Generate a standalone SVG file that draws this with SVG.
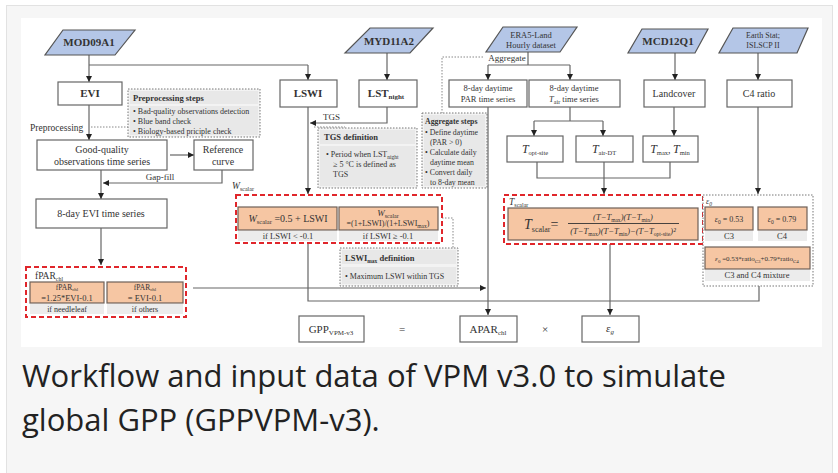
<svg xmlns="http://www.w3.org/2000/svg" width="838" height="473" viewBox="0 0 838 473">
<defs>
<style>
.t{font-family:"Liberation Serif",serif;fill:#333;font-size:9px}
.c{text-anchor:middle}
.b{font-weight:bold}
.i{font-style:italic}
.box{fill:#fff;stroke:#666;stroke-width:1.2}
.para{fill:#b4c6e7;stroke:#555;stroke-width:1.2}
.or{fill:#f6c6a3;stroke:#6e6058;stroke-width:1.2}
.red{fill:#fff;stroke:#e0262b;stroke-width:2;stroke-dasharray:5 3}
.dot{fill:#f3f3f3;stroke:#777;stroke-width:1;stroke-dasharray:1.5 1.5}
.band{fill:#e8e8e8}
.lbl{fill:#ececec}
.ln{stroke:#666;stroke-width:1.2;fill:none}
.dl{stroke:#888;stroke-width:1;fill:none;stroke-dasharray:1.5 1.5}
.ar{marker-end:url(#ah)}
.cap{font-family:"Open Sans","Noto Sans",sans-serif;font-size:31px;fill:#222}
</style>
<marker id="ah" markerWidth="6" markerHeight="6" refX="6" refY="3" orient="auto" markerUnits="userSpaceOnUse">
<path d="M0,0 L6,3 L0,6 z" fill="#222"/>
</marker>
</defs>
<rect x="0" y="0" width="838" height="473" fill="#fff"/>
<rect x="6.5" y="5.5" width="826" height="480" fill="#f6f6f6" stroke="#e2e2e2"/>
<rect x="21" y="18" width="801" height="329" fill="#fff"/>

<g id="connectors">
<path class="ln ar" d="M89,55 V82"/>
<path class="ln" d="M89,65 H308"/>
<path class="ln ar" d="M308,65 V80"/>
<path class="ln ar" d="M89,105 V140"/>
<path class="dl" d="M91,127 H128"/>
<path class="ln ar" d="M170,155 H194"/>
<path class="ln ar" d="M101,170 V199"/>
<path class="ln ar" d="M222,170 V183 H103"/>
<path class="ln ar" d="M101,228 V265"/>
<path class="ln ar" d="M193,288 H486"/>
<path class="ln ar" d="M387,53 V80"/>
<path class="ln ar" d="M387,107 V123 H310"/>
<path class="dl" d="M314,127 H345"/>
<path class="ln ar" d="M308,107 V194"/>
<path class="ln" d="M308,243 V301 H759 V286"/>
<path class="ln" d="M528,52 V65"/>
<path class="ln" d="M488,65 H570"/>
<path class="ln ar" d="M488,65 V80"/>
<path class="ln ar" d="M570,65 V80"/>
<path class="dl" d="M483,57 H442 V113"/>
<path class="ln ar" d="M488,107 V315"/>
<path class="ln" d="M570,107 V121"/>
<path class="ln" d="M534,121 H603"/>
<path class="ln ar" d="M534,121 V136"/>
<path class="ln ar" d="M603,121 V136"/>
<path class="ln ar" d="M675,53 V80"/>
<path class="ln ar" d="M674,107 V136"/>
<path class="ln ar" d="M758,53 V80"/>
<path class="ln ar" d="M758,107 V194"/>
<path class="ln" d="M537,162 V178 H670 V162"/>
<path class="ln ar" d="M604,162 V194"/>
<path class="ln ar" d="M610,244 V315"/>
<path class="dl" d="M442,218 H453 V248"/>
<text class="t c" x="160" y="180">Gap-fill</text>
<text class="t" x="30" y="131" style="font-size:9.5px">Preprocessing</text>
<text class="t" x="323" y="120">TGS</text>
<text class="t c" x="507" y="61">Aggregate</text>
</g>

<g id="MOD09A1"><polygon class="para" points="63,30 135,30 115,55 45,55"/><text class="t c b" x="89" y="46" style="font-size:11px">MOD09A1</text></g>
<g id="MYD11A2"><polygon class="para" points="370,28 433,28 410,53 345,53"/><text class="t c b" x="389" y="45" style="font-size:11px">MYD11A2</text></g>
<g id="ERA5"><polygon class="para" points="503,27 577,27 560,52 486,52"/><text class="t c" x="531" y="38" style="font-size:8.5px">ERA5-Land</text><text class="t c" x="531" y="48" style="font-size:8.5px">Hourly dataset</text></g>
<g id="MCD12Q1"><polygon class="para" points="642,29 708,29 695,53 628,53"/><text class="t c b" x="668" y="45" style="font-size:11px">MCD12Q1</text></g>
<g id="EarthStat"><polygon class="para" points="733,28 808,28 797,53 719,53"/><text class="t c" x="763" y="38" style="font-size:8px">Earth Stat;</text><text class="t c" x="763" y="48" style="font-size:8px">ISLSCP II</text></g>

<g id="EVI"><rect class="box" x="58" y="82" width="64" height="23"/><text class="t c b" x="90" y="97" style="font-size:11px">EVI</text></g>
<g id="preproc"><rect class="dot" x="128" y="89" width="132" height="48"/><rect class="band" x="130" y="91" width="128" height="13"/><rect class="band" x="130" y="106" width="128" height="29"/>
<text class="t b" x="133" y="101" style="font-size:8.5px">Preprocessing steps</text>
<text class="t" x="133" y="114" style="font-size:8px">• Bad-quality observations detection</text>
<text class="t" x="133" y="124" style="font-size:8px">• Blue band check</text>
<text class="t" x="133" y="134" style="font-size:8px">• Biology-based priciple check</text></g>
<g id="goodq"><rect class="box" x="37" y="140" width="130" height="30"/><text class="t c" x="102" y="153" style="font-size:10px">Good-quality</text><text class="t c" x="102" y="165" style="font-size:10px">observations time series</text></g>
<g id="refcurve"><rect class="box" x="194" y="140" width="59" height="30"/><text class="t c" x="223" y="153" style="font-size:10px">Reference</text><text class="t c" x="223" y="165" style="font-size:10px">curve</text></g>
<g id="evi8"><rect class="box" x="36" y="199" width="131" height="29"/><text class="t c" x="101" y="217" style="font-size:10px">8-day EVI time series</text></g>

<g id="LSWI"><rect class="box" x="280" y="80" width="57" height="27"/><text class="t c b" x="308" y="97" style="font-size:11px">LSWI</text></g>
<g id="LST"><rect class="box" x="359" y="80" width="58" height="27"/><text class="t c b" x="386" y="97" style="font-size:11px">LST<tspan dy="2" style="font-size:7px">night</tspan></text></g>
<g id="PAR"><rect class="box" x="449" y="80" width="78" height="27"/><text class="t c" x="488" y="91" style="font-size:8.5px">8-day daytime</text><text class="t c" x="488" y="102" style="font-size:8.5px">PAR time series</text></g>
<g id="Tair"><rect class="box" x="529" y="80" width="91" height="27"/><text class="t c" x="574" y="91" style="font-size:8.5px">8-day daytime</text><text class="t c" x="574" y="102" style="font-size:8.5px"><tspan class="i">T</tspan><tspan dy="2" style="font-size:6px">air</tspan><tspan dy="-2"> time series</tspan></text></g>
<g id="Landcover"><rect class="box" x="644" y="80" width="61" height="27"/><text class="t c" x="674" y="97" style="font-size:10px">Landcover</text></g>
<g id="C4ratio"><rect class="box" x="727" y="80" width="65" height="27"/><text class="t c" x="759" y="97" style="font-size:10px">C4 ratio</text></g>

<g id="TGSdef"><rect class="dot" x="318" y="128" width="99" height="60"/><rect class="band" x="320" y="130" width="95" height="14"/><rect class="band" x="320" y="146" width="95" height="40"/>
<text class="t b" x="324" y="140" style="font-size:8.5px">TGS definition</text>
<text class="t" x="326" y="157" style="font-size:8px">•  Period when LST<tspan dy="2" style="font-size:5.5px">night</tspan></text>
<text class="t" x="333" y="167" style="font-size:8px">≥ 5 °C is defined as</text>
<text class="t" x="333" y="177" style="font-size:8px">TGS</text></g>

<g id="aggsteps"><rect class="dot" x="422" y="113" width="65" height="75"/><rect class="band" x="424" y="115" width="61" height="71"/>
<text class="t b" x="425" y="124" style="font-size:7.8px">Aggregate steps</text>
<text class="t" x="425" y="135" style="font-size:7.8px">• Define daytime</text>
<text class="t" x="430" y="145" style="font-size:7.8px">(PAR &gt; 0)</text>
<text class="t" x="425" y="155" style="font-size:7.8px">• Calculate daily</text>
<text class="t" x="430" y="165" style="font-size:7.8px">daytime mean</text>
<text class="t" x="425" y="175" style="font-size:7.8px">• Convert daily</text>
<text class="t" x="430" y="185" style="font-size:7.8px">to 8-day mean</text></g>

<g id="Topt"><rect class="box" x="507" y="136" width="56" height="26"/><text class="t c" x="535" y="153"><tspan class="i" style="font-size:12px">T</tspan><tspan dy="2" style="font-size:6.5px">opt-site</tspan></text></g>
<g id="TairDT"><rect class="box" x="576" y="136" width="57" height="26"/><text class="t c" x="604" y="153"><tspan class="i" style="font-size:12px">T</tspan><tspan dy="2" style="font-size:6.5px">air-DT</tspan></text></g>
<g id="Tmaxmin"><rect class="box" x="643" y="136" width="55" height="26"/><text class="t c" x="670" y="153"><tspan class="i" style="font-size:12px">T</tspan><tspan dy="2" style="font-size:6.5px">max</tspan><tspan dy="-2" style="font-size:10px">, </tspan><tspan class="i" style="font-size:12px">T</tspan><tspan dy="2" style="font-size:6.5px">min</tspan></text></g>

<g id="fPAR"><rect class="red" x="26" y="267" width="160" height="50"/>
<text class="t" x="35" y="279" style="font-size:9.5px">fPAR<tspan dy="2" style="font-size:6px">chl</tspan></text>
<rect class="or" x="30" y="282" width="74" height="21"/><rect class="or" x="107" y="282" width="76" height="21"/>
<rect class="lbl" x="30" y="304" width="74" height="10"/><rect class="lbl" x="107" y="304" width="76" height="10"/>
<text class="t c" x="67" y="290" style="font-size:7.5px">fPAR<tspan dy="1" style="font-size:5px">chl</tspan></text>
<text class="t c" x="67" y="300.5" style="font-size:8.5px">=1.25*EVI-0.1</text>
<text class="t c" x="145" y="290" style="font-size:7.5px">fPAR<tspan dy="1" style="font-size:5px">chl</tspan></text>
<text class="t c" x="145" y="300.5" style="font-size:8.5px">= EVI-0.1</text>
<text class="t c" x="67" y="312" style="font-size:8px">if needleleaf</text>
<text class="t c" x="145" y="312" style="font-size:8px">if others</text></g>

<g id="Wscalar"><text class="t i" x="232" y="189" style="font-size:9.5px">W<tspan dy="2" style="font-size:6px;font-style:normal">scalar</tspan></text>
<rect class="red" x="236" y="195" width="206" height="48"/>
<rect class="or" x="238" y="207" width="99" height="23"/><rect class="or" x="339" y="207" width="99" height="23"/>
<rect class="lbl" x="238" y="231" width="99" height="10"/><rect class="lbl" x="339" y="231" width="99" height="10"/>
<text class="t c" x="288" y="222" style="font-size:10px"><tspan class="i">W</tspan><tspan dy="2" style="font-size:6.5px">scalar</tspan><tspan dy="-2"> =0.5 + LSWI</tspan></text>
<text class="t c" x="388" y="216" style="font-size:9px"><tspan class="i">W</tspan><tspan dy="2" style="font-size:6px">scalar</tspan></text>
<text class="t c" x="388" y="226" style="font-size:8px">=(1+LSWI)/(1+LSWI<tspan dy="2" style="font-size:5.5px">max</tspan><tspan dy="-2">)</tspan></text>
<text class="t c" x="288" y="239" style="font-size:8.5px">if LSWI &lt; -0.1</text>
<text class="t c" x="388" y="239" style="font-size:8.5px">if LSWI ≥ -0.1</text></g>

<g id="LSWImax"><rect class="dot" x="340" y="248" width="118" height="38"/><rect class="band" x="342" y="250" width="114" height="14"/><rect class="band" x="342" y="267" width="114" height="17"/>
<text class="t b" x="345" y="261" style="font-size:8.5px">LSWI<tspan dy="2" style="font-size:5.5px">max</tspan><tspan dy="-2"> definition</tspan></text>
<text class="t" x="345" y="279" style="font-size:8px">• Maximum LSWI within TGS</text></g>

<g id="Tscalar"><rect class="red" x="504" y="195" width="199" height="49"/>
<text class="t" x="509" y="205" style="font-size:9.5px"><tspan class="i">T</tspan><tspan dy="2" style="font-size:6px">scalar</tspan></text>
<rect class="or" x="508" y="208" width="190" height="32"/>
<text class="t" x="524" y="229" style="font-size:14px"><tspan class="i">T</tspan><tspan dy="3" style="font-size:8px">scalar</tspan><tspan dy="-3">=</tspan></text>
<text class="t c i" x="623" y="220" style="font-size:8.5px">(T−T<tspan dy="2" style="font-size:5.5px;font-style:normal">max</tspan><tspan dy="-2">)(T−T</tspan><tspan dy="2" style="font-size:5.5px;font-style:normal">min</tspan><tspan dy="-2">)</tspan></text>
<line x1="568" y1="223.5" x2="679" y2="223.5" stroke="#333" stroke-width="0.9"/>
<text class="t c i" x="623" y="234" style="font-size:8.5px">(T−T<tspan dy="2" style="font-size:5.5px;font-style:normal">max</tspan><tspan dy="-2">)(T−T</tspan><tspan dy="2" style="font-size:5.5px;font-style:normal">min</tspan><tspan dy="-2">)−(T−T</tspan><tspan dy="2" style="font-size:5.5px;font-style:normal">opt-site</tspan><tspan dy="-2">)²</tspan></text></g>

<g id="eps0"><rect class="dot" x="703" y="195" width="110" height="91" style="fill:#fff"/>
<text class="t i" x="706" y="204" style="font-size:8px">ε<tspan dy="2" style="font-size:5.5px">0</tspan></text>
<rect class="or" x="705" y="207" width="48" height="23"/><rect class="or" x="758" y="207" width="49" height="23"/>
<rect class="lbl" x="705" y="231" width="48" height="10"/><rect class="lbl" x="758" y="231" width="49" height="10"/>
<text class="t c" x="729" y="222" style="font-size:8px"><tspan class="i">ε</tspan><tspan dy="2" style="font-size:5.5px">0</tspan><tspan dy="-2"> = 0.53</tspan></text>
<text class="t c" x="782" y="222" style="font-size:8px"><tspan class="i">ε</tspan><tspan dy="2" style="font-size:5.5px">0</tspan><tspan dy="-2"> = 0.79</tspan></text>
<text class="t c" x="729" y="239" style="font-size:8.5px">C3</text>
<text class="t c" x="782" y="239" style="font-size:8.5px">C4</text>
<rect class="or" x="705" y="247" width="105" height="22"/>
<rect class="lbl" x="705" y="270" width="105" height="11"/>
<text class="t c" x="757" y="261" style="font-size:7px"><tspan class="i">ε</tspan><tspan dy="2" style="font-size:5px">0</tspan><tspan dy="-2"> =0.53*ratio</tspan><tspan dy="2" style="font-size:5px">C3</tspan><tspan dy="-2">+0.79*ratio</tspan><tspan dy="2" style="font-size:5px">C4</tspan></text>
<text class="t c" x="757" y="278" style="font-size:8.5px">C3 and C4 mixture</text></g>

<g id="GPP"><rect class="box" x="299" y="316" width="65" height="26"/><text class="t c" x="331" y="333" style="font-size:11px">GPP<tspan dy="2" style="font-size:7px">VPM-v3</tspan></text></g>
<g id="eq"><text class="t c" x="402" y="333" style="font-size:11px">=</text></g>
<g id="APAR"><rect class="box" x="460" y="316" width="57" height="26"/><text class="t c" x="488" y="333" style="font-size:11px">APAR<tspan dy="2" style="font-size:7px">chl</tspan></text></g>
<g id="times"><text class="t c" x="545" y="333" style="font-size:11px">×</text></g>
<g id="epsg"><rect class="box" x="582" y="316" width="57" height="26"/><text class="t c i" x="610" y="332" style="font-size:11px">ε<tspan dy="2" style="font-size:7px">g</tspan></text></g>

<text class="cap" x="22" y="387">Workflow and input data of VPM v3.0 to simulate</text>
<text class="cap" x="22" y="431">global GPP (GPPVPM-v3).</text>
</svg>
